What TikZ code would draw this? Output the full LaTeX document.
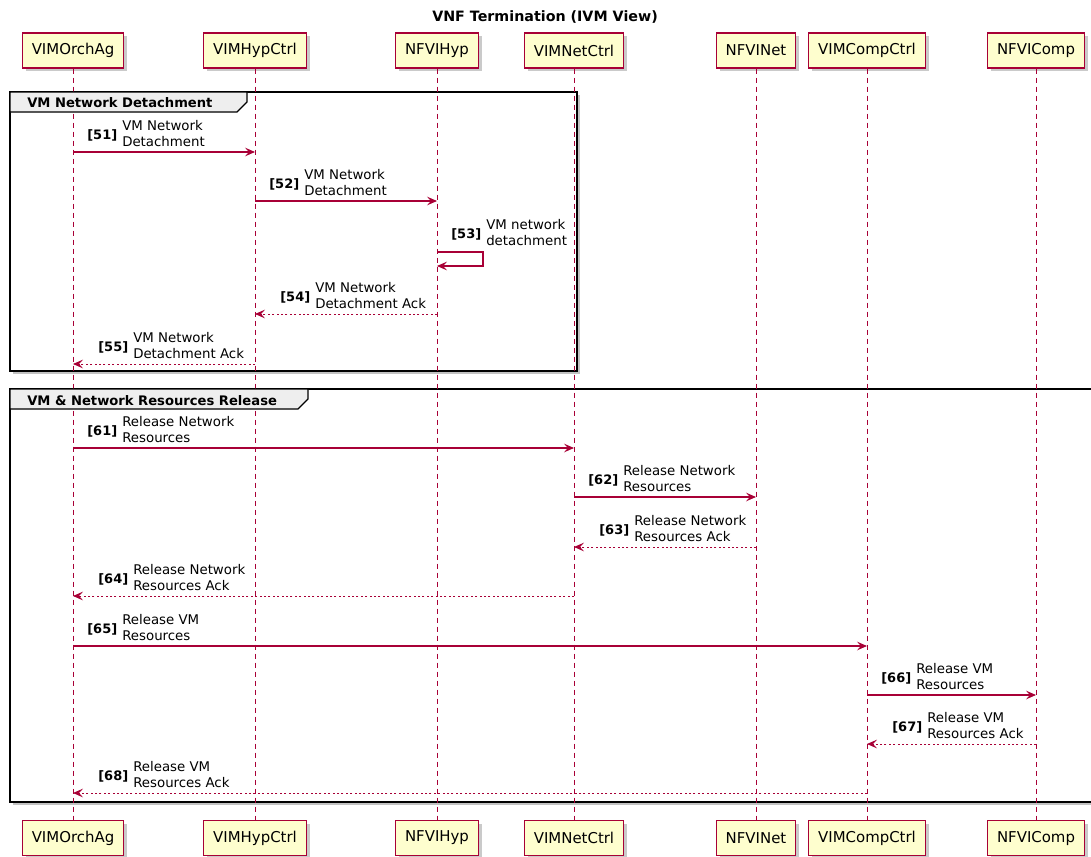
\documentclass[tikz,border=0pt]{standalone}
\usepackage{fontspec}
\setmainfont{DejaVu Sans}
\usetikzlibrary{arrows.meta,calc,shadows}

\definecolor{umlred}{HTML}{A80036}
\definecolor{umlfill}{HTML}{FEFECE}
\definecolor{tabgray}{HTML}{EEEEEE}

\tikzset{
  participant/.style={draw=umlred, fill=umlfill, line width=1pt,
    minimum height=26.25pt, inner xsep=7.1pt, inner ysep=0pt,
    font=\fontsize{11.2}{13}\selectfont,
    drop shadow={shadow xshift=2.5pt, shadow yshift=-2.5pt, fill=black!35, opacity=0.6}},
  lifeline/.style={draw=umlred, line width=0.75pt, dash pattern=on 3.75pt off 3pt},
  req/.style={draw=umlred, line width=0.8pt, -{Stealth[length=7.5pt,width=6.5pt,inset=3pt]}},
  ret/.style={req, line width=0.7pt, dash pattern=on 1.5pt off 1.8pt},
  num/.style={anchor=base west, inner sep=0pt, font=\bfseries\fontsize{9.75}{12}\selectfont},
  msgtxt/.style={anchor=south west, inner sep=0pt, align=left, font=\fontsize{10}{12}\selectfont},
  groupframe/.style={draw=black, line width=1.5pt, fill=white,
    drop shadow={shadow xshift=2.2pt, shadow yshift=-2.2pt, fill=black!40, opacity=0.6}},
  grouptab/.style={draw=black, line width=1pt, fill=tabgray},
  tabtext/.style={anchor=base west, inner sep=0pt, font=\bfseries\fontsize{9.85}{12}\selectfont},
}

% message to the right: from, to, y, number, text
\newcommand\reqmsg[5]{%
  \draw[req] (#1-top |- 0,#3) -- (#2-top |- 0,#3);
  \node[num] (n#4) at ($(#1-top |- 0,#3)+(14,-12.5)$) {[#4]};
  \node[msgtxt] (t#4) at ($(#1-top |- 0,#3)+(49,-5)$) {#5};
}
% reply to the left: from (right), to (left), y, number, text
\newcommand\retmsg[5]{%
  \draw[ret] (#1-top |- 0,#3) -- (#2-top |- 0,#3);
  \node[num] (n#4) at ($(#2-top |- 0,#3)+(25,-12.5)$) {[#4]};
  \node[msgtxt] (t#4) at ($(#2-top |- 0,#3)+(60,-5)$) {#5};
}

\begin{document}
\begin{tikzpicture}[x=0.75pt, y=-0.75pt]
\useasboundingbox (0,0) rectangle (1091,856);
\clip (0,0) rectangle (1091,856);

% title
\node[font=\bfseries\fontsize{10.7}{13}\selectfont] (title) at (545,17) {VNF Termination (IVM View)};

% group frames
\draw[groupframe] (10,92) rectangle (577,371);
\draw[groupframe] (10,389) rectangle (1110,802);

% participants and lifelines
\foreach \n/\x/\t in {orch/73/VIMOrchAg, hypc/255/VIMHypCtrl, hyp/437/NFVIHyp,
                      netc/574/VIMNetCtrl, net/756/NFVINet, compc/867/VIMCompCtrl,
                      comp/1036/NFVIComp}{
  \node[participant] (\n-top) at (\x,50.5) {\t};
  \node[participant] (\n-bot) at (\x,838) {\t};
  \draw[lifeline] (\n-top) -- (\n-bot);
}

% group headers
\draw[grouptab] (10,92) -- (247,92) -- (247,102) -- (237,112) -- (10,112) -- cycle;
\node[tabtext] (g1) at (27,108) {VM Network Detachment};
\draw[grouptab] (10,389) -- (308,389) -- (308,399) -- (298,409) -- (10,409) -- cycle;
\node[tabtext] (g2) at (27,405) {VM \& Network Resources Release};

% VM network detachment
\reqmsg{orch}{hypc}{152}{51}{VM Network\\Detachment}
\reqmsg{hypc}{hyp}{201}{52}{VM Network\\Detachment}
\draw[req] (hyp-top |- 0,252) -- ++(46,0) |- (hyp-top |- 0,266);
\node[num] (n53) at ($(hyp-top |- 0,252)+(14,-13.5)$) {[53]};
\node[msgtxt] (t53) at ($(hyp-top |- 0,252)+(49,-6)$) {VM network\\detachment};
\retmsg{hyp}{hypc}{314}{54}{VM Network\\Detachment Ack}
\retmsg{hypc}{orch}{364}{55}{VM Network\\Detachment Ack}

% VM and network resources release
\reqmsg{orch}{netc}{448}{61}{Release Network\\Resources}
\reqmsg{netc}{net}{497}{62}{Release Network\\Resources}
\retmsg{net}{netc}{547}{63}{Release Network\\Resources Ack}
\retmsg{netc}{orch}{596}{64}{Release Network\\Resources Ack}
\reqmsg{orch}{compc}{646}{65}{Release VM\\Resources}
\reqmsg{compc}{comp}{695}{66}{Release VM\\Resources}
\retmsg{comp}{compc}{744}{67}{Release VM\\Resources Ack}
\retmsg{compc}{orch}{793}{68}{Release VM\\Resources Ack}
\end{tikzpicture}
\end{document}
